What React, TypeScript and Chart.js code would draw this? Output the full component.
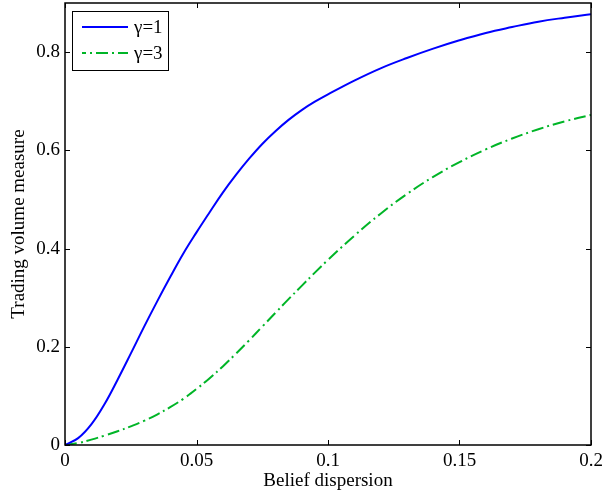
import React, { useEffect, useRef } from "react";
import { Chart, registerables } from "chart.js";

Chart.register(...registerables);

const dispersion = [
  0, 0.005, 0.01, 0.015, 0.02, 0.025, 0.03, 0.035, 0.04, 0.045, 0.05, 0.055, 0.06, 0.065, 0.07,
  0.075, 0.08, 0.085, 0.09, 0.095, 0.1, 0.11, 0.12, 0.13, 0.14, 0.15, 0.16, 0.17, 0.18, 0.19, 0.2,
];
const gamma1 = [
  0, 0.014, 0.042, 0.083, 0.133, 0.186, 0.24, 0.292, 0.342, 0.39, 0.433, 0.474, 0.514, 0.55, 0.583,
  0.613, 0.639, 0.662, 0.682, 0.699, 0.714, 0.742, 0.767, 0.788, 0.807, 0.824, 0.839, 0.851, 0.862, 0.87, 0.877,
];
const gamma3 = [
  0, 0.004, 0.011, 0.019, 0.028, 0.038, 0.049, 0.062, 0.077, 0.094, 0.114, 0.136, 0.16, 0.186, 0.213,
  0.241, 0.269, 0.297, 0.324, 0.351, 0.377, 0.426, 0.471, 0.511, 0.546, 0.576, 0.602, 0.624, 0.643, 0.659, 0.672,
];
const seriesLabels = ["\u03b3=1", "\u03b3=3"];
const xTicks = [0, 0.05, 0.1, 0.15, 0.2];
const xTickLabels = ["0", "0.05", "0.1", "0.15", "0.2"];
const yTicks = [0, 0.2, 0.4, 0.6, 0.8];
const yTickLabels = ["0", "0.2", "0.4", "0.6", "0.8"];
const xTitle = "Belief dispersion";
const yTitle = "Trading volume measure";

const FONT = "'Liberation Serif', 'Times New Roman', serif";
const BLUE = "#0000ff";
const GREEN = "#00b527";
const GREEN_DASH = [12, 4, 2, 4];

const framePlugin = {
  id: "framePlugin",
  afterDraw(chart: any) {
    const ctx = chart.ctx;
    const { left, right, top, bottom } = chart.chartArea;
    const xs = chart.scales.x;
    const ys = chart.scales.y;
    const tl = 5;
    ctx.save();
    ctx.strokeStyle = "#000";
    ctx.lineWidth = 1;
    ctx.beginPath();
    xTicks.forEach((v) => {
      const px = Math.round(xs.getPixelForValue(v)) + 0.5;
      ctx.moveTo(px, bottom);
      ctx.lineTo(px, bottom - tl);
      ctx.moveTo(px, top);
      ctx.lineTo(px, top + tl);
    });
    yTicks.forEach((v) => {
      const py = Math.round(ys.getPixelForValue(v)) + 0.5;
      ctx.moveTo(left, py);
      ctx.lineTo(left + tl, py);
      ctx.moveTo(right, py);
      ctx.lineTo(right - tl, py);
    });
    ctx.stroke();
    ctx.lineWidth = 1.5;
    ctx.strokeRect(left, top, right - left, bottom - top);

    const lx = 72.5, ly = 11.5, lw = 96, lh = 59;
    ctx.fillStyle = "#fff";
    ctx.fillRect(lx, ly, lw, lh);
    ctx.lineWidth = 1;
    ctx.strokeStyle = "#000";
    ctx.strokeRect(lx, ly, lw, lh);
    const rows = [27, 53];
    chart.data.datasets.forEach((ds: any, i: number) => {
      const y = rows[i];
      ctx.beginPath();
      ctx.strokeStyle = ds.borderColor;
      ctx.lineWidth = ds.borderWidth;
      ctx.setLineDash(ds.borderDash || []);
      ctx.lineDashOffset = ds.borderDash ? 8 : 0;
      ctx.moveTo(82, y);
      ctx.lineTo(128, y);
      ctx.stroke();
      ctx.setLineDash([]);
      ctx.fillStyle = "#000";
      ctx.font = `19px ${FONT}`;
      ctx.textBaseline = "middle";
      ctx.textAlign = "left";
      ctx.fillText(ds.label, 134, y + 1);
    });
    ctx.restore();
  },
};

export default function App() {
  const ref = useRef<HTMLCanvasElement>(null);
  useEffect(() => {
    if (!ref.current) return;
    const chart = new Chart(ref.current, {
      type: "line",
      data: {
        datasets: [
          {
            label: seriesLabels[0],
            data: dispersion.map((x, i) => ({ x, y: gamma1[i] })),
            borderColor: BLUE,
            borderWidth: 2,
            pointRadius: 0,
            fill: false,
            tension: 0.4,
          },
          {
            label: seriesLabels[1],
            data: dispersion.map((x, i) => ({ x, y: gamma3[i] })),
            borderColor: GREEN,
            borderWidth: 2,
            borderDash: GREEN_DASH,
            pointRadius: 0,
            fill: false,
            tension: 0.4,
          },
        ],
      },
      options: {
        responsive: false,
        animation: false,
        layout: { padding: { top: 3, right: 13, left: 0, bottom: 0 } },
        plugins: { legend: { display: false }, tooltip: { enabled: false } },
        scales: {
          x: {
            type: "linear",
            min: 0,
            max: 0.2,
            grid: { display: false, drawTicks: false },
            border: { display: false },
            afterBuildTicks: (s: any) => {
              s.ticks = xTicks.map((v) => ({ value: v }));
            },
            afterFit: (s: any) => {
              s.height = 49;
              s.paddingLeft = 0;
              s.paddingRight = 0;
            },
            ticks: {
              autoSkip: false,
              maxRotation: 0,
              padding: 5,
              color: "#000",
              font: { family: FONT, size: 19 },
              callback: (v: any) => {
                const i = xTicks.findIndex((t) => Math.abs(t - Number(v)) < 1e-9);
                return i >= 0 ? xTickLabels[i] : "";
              },
            },
            title: {
              display: true,
              text: xTitle,
              color: "#000",
              font: { family: FONT, size: 19 },
              padding: { top: 0, bottom: 2 },
            },
          },
          y: {
            type: "linear",
            min: 0,
            max: 0.9,
            grid: { display: false, drawTicks: false },
            border: { display: false },
            afterBuildTicks: (s: any) => {
              s.ticks = yTicks.map((v) => ({ value: v }));
            },
            afterFit: (s: any) => {
              s.width = 65;
              s.paddingTop = 0;
              s.paddingBottom = 0;
            },
            ticks: {
              autoSkip: false,
              padding: 5,
              color: "#000",
              font: { family: FONT, size: 19 },
              callback: (v: any) => {
                const i = yTicks.findIndex((t) => Math.abs(t - Number(v)) < 1e-9);
                return i >= 0 ? yTickLabels[i] : "";
              },
            },
            title: {
              display: true,
              text: yTitle,
              color: "#000",
              font: { family: FONT, size: 19 },
              padding: { top: 8, bottom: 0 },
            },
          },
        },
      },
      plugins: [framePlugin],
    } as any);
    return () => chart.destroy();
  }, []);
  return (
    <div style={{ position: "fixed", left: 0, top: 0, width: 604, height: 494, background: "#fff" }}>
      <canvas ref={ref} width={604} height={494} style={{ display: "block" }} />
    </div>
  );
}
